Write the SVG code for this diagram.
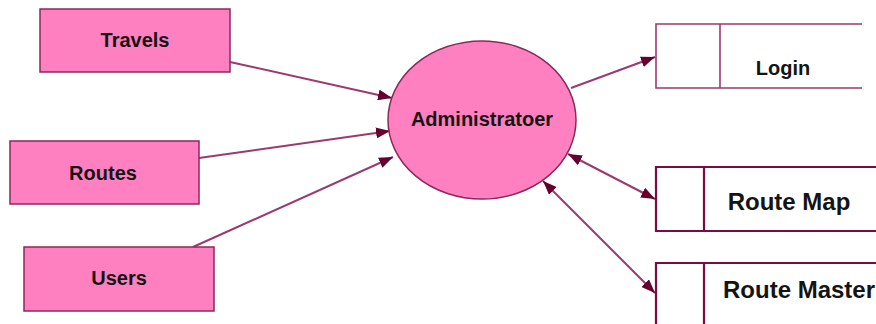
<svg xmlns="http://www.w3.org/2000/svg" width="876" height="324" viewBox="0 0 876 324">
<defs>
<marker id="ah" viewBox="0 0 14 11" refX="14" refY="5.5" markerWidth="14" markerHeight="11" markerUnits="userSpaceOnUse" orient="auto-start-reverse">
<path d="M0,0 L14,5.5 L0,11 z" fill="#66002f"/>
</marker>
<style>
.ent{fill:#ff80c0;stroke:#8a2a5a;stroke-width:1.5}
.proc{fill:#ff80c0;stroke:#8a2a5a;stroke-width:1.5}
.store{fill:none;stroke:#7a0a44;stroke-width:2.2}
.store2{fill:none;stroke:#9a3a6e;stroke-width:1.6}
.t{font-family:"Liberation Sans",Arial,sans-serif;font-weight:bold;fill:#141414;text-anchor:middle}
.t20{font-size:20px}
.t24{font-size:24px}
.c{stroke:#9a3a6e;stroke-width:2;fill:none}
</style>
</defs>
<rect width="876" height="324" fill="#ffffff"/>
<g id="connectors">
<line class="c" x1="230" y1="62" x2="392" y2="98" marker-end="url(#ah)"/>
<line class="c" x1="199" y1="158" x2="390" y2="131" marker-end="url(#ah)"/>
<line class="c" x1="193" y1="247" x2="393" y2="157" marker-end="url(#ah)"/>
<line class="c" x1="571" y1="88" x2="655" y2="57" marker-end="url(#ah)"/>
<line class="c" x1="568" y1="154" x2="655" y2="199" marker-start="url(#ah)" marker-end="url(#ah)"/>
<line class="c" x1="543" y1="181" x2="655" y2="293" marker-start="url(#ah)" marker-end="url(#ah)"/>
</g>
<g id="travels">
<rect class="ent" x="40" y="9" width="190" height="63"/>
<text class="t t20" x="135" y="47">Travels</text>
</g>
<g id="routes">
<rect class="ent" x="10" y="141" width="189" height="63"/>
<text class="t t20" x="103" y="180">Routes</text>
</g>
<g id="users">
<rect class="ent" x="24" y="247" width="190" height="64"/>
<text class="t t20" x="119" y="285">Users</text>
</g>
<g id="administratoer">
<ellipse class="proc" cx="482" cy="120" rx="94" ry="79"/>
<text class="t t20" x="482" y="126">Administratoer</text>
</g>
<g id="login">
<path class="store2" d="M862,24 H656 V88 H862 M720,24 V88"/>
<text class="t t20" x="783" y="75">Login</text>
</g>
<g id="route-map">
<path class="store" d="M880,167 H656 V231 H880 M704,167 V231"/>
<text class="t t24" x="789" y="210">Route Map</text>
</g>
<g id="route-master">
<path class="store" d="M880,263 H656 V330 M704,263 V330"/>
<text class="t t24" x="799" y="298">Route Master</text>
</g>
</svg>
